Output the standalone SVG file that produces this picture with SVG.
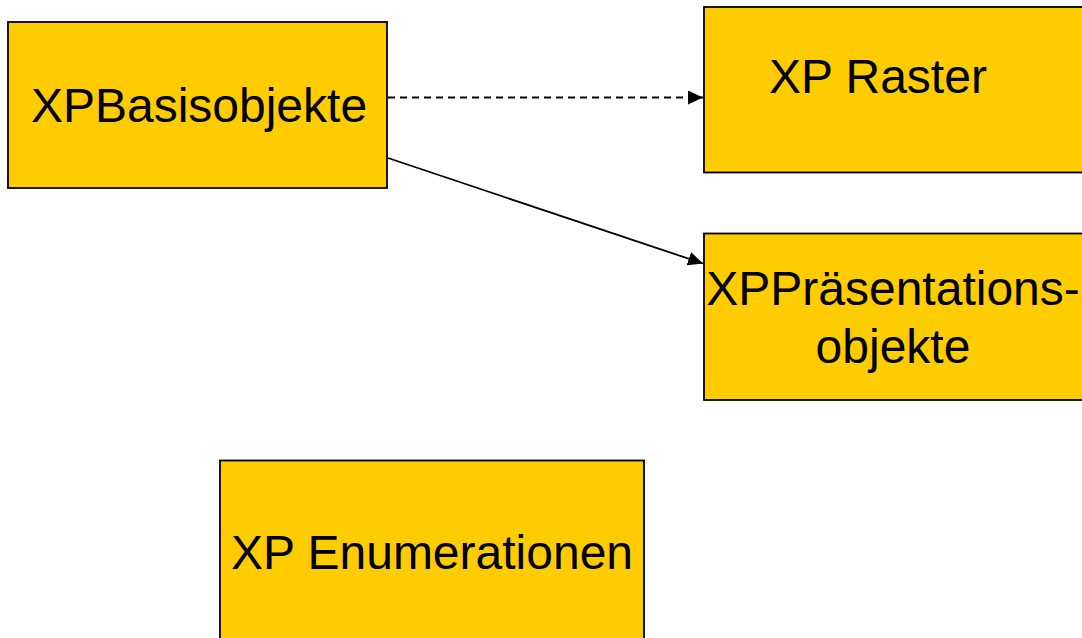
<svg xmlns="http://www.w3.org/2000/svg" width="1082" height="638" viewBox="0 0 1082 638">
<style>
.box{fill:#FFCC00;stroke:#000;stroke-width:1.8}
.t{font-family:"Liberation Sans",Arial,sans-serif;font-size:48px;fill:#000}
.c{stroke:#000;stroke-width:1.8;fill:none}
</style>
<defs>
<marker id="ah" markerWidth="16" markerHeight="14" refX="15" refY="7" orient="auto" markerUnits="userSpaceOnUse">
<path d="M0,0 L15,7 L0,14 Z" fill="#000"/>
</marker>
</defs>
<rect width="1082" height="638" fill="#fff"/>
<g id="connectors">
<line class="c" x1="388" y1="97.5" x2="703" y2="97.5" stroke-dasharray="7,5" marker-end="url(#ah)"/>
<line class="c" x1="388" y1="158" x2="703" y2="263.5" marker-end="url(#ah)"/>
</g>
<g id="n1">
<rect class="box" x="8" y="22" width="379" height="166"/>
<text class="t" x="199" y="121.5" text-anchor="middle">XPBasisobjekte</text>
</g>
<g id="n2">
<rect class="box" x="704" y="7" width="390" height="165.5"/>
<text class="t" x="769" y="93">XP Raster</text>
</g>
<g id="n3">
<rect class="box" x="704" y="233.5" width="390" height="166.5"/>
<text class="t" x="893" y="305" text-anchor="middle">XPPräsentations-</text>
<text class="t" x="893" y="362.5" text-anchor="middle">objekte</text>
</g>
<g id="n4">
<rect class="box" x="220" y="460.5" width="424" height="200"/>
<text class="t" x="432" y="568.5" text-anchor="middle">XP Enumerationen</text>
</g>
</svg>
